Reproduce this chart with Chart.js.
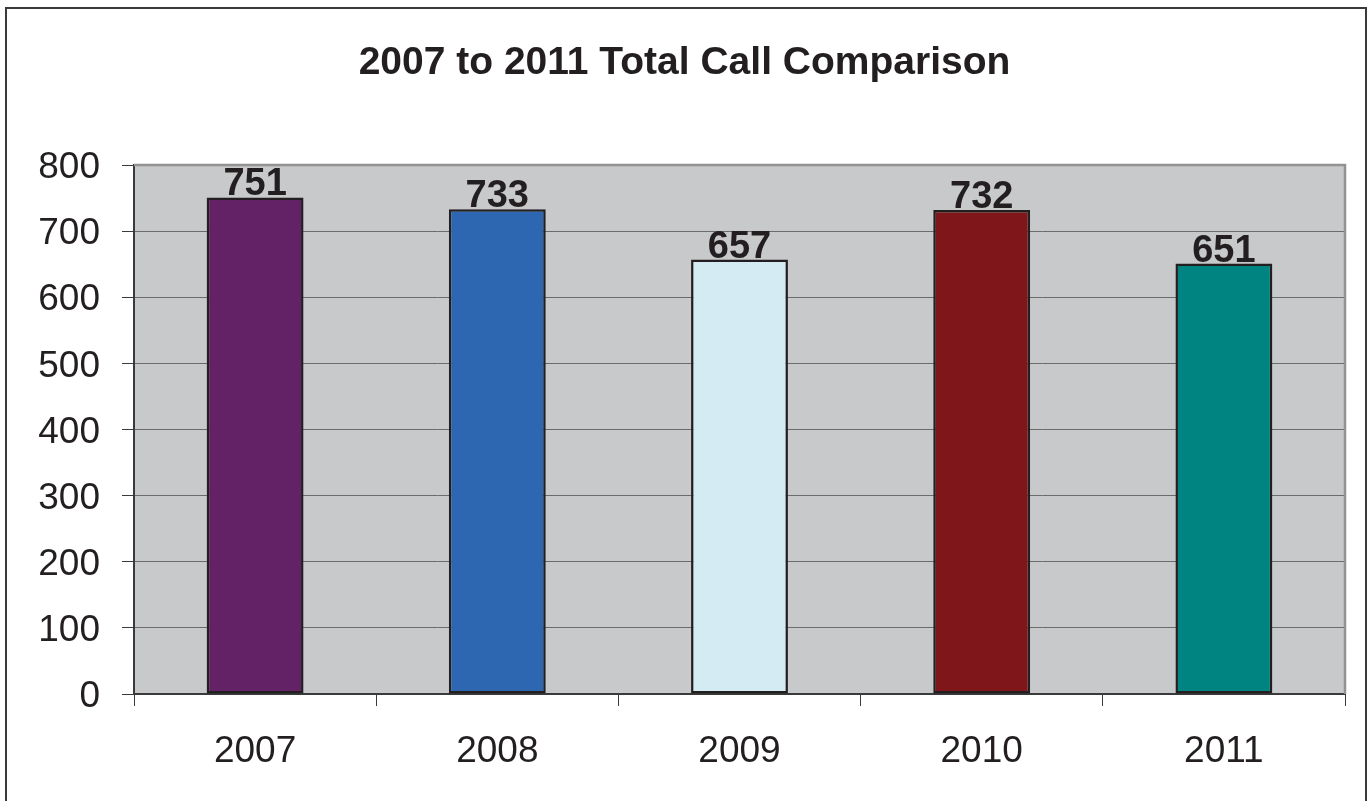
<!DOCTYPE html>
<html>
<head>
<meta charset="utf-8">
<script src="https://cdn.jsdelivr.net/npm/chart.js@4.4.1/dist/chart.umd.min.js"></script>
<style>
  html, body { margin: 0; padding: 0; background: #fff; }
  #wrap { width: 1369px; height: 801px; position: relative; }
</style>
</head>
<body>
<div id="wrap"><canvas id="callChart"></canvas></div>
<script>
// chart values
const years = ['2007', '2008', '2009', '2010', '2011'];
const totalCalls = [751, 733, 657, 732, 651];
const barColors = ['#642266', '#2e67b1', '#d4ebf3', '#7e161a', '#008482'];
const yTicks = [0, 100, 200, 300, 400, 500, 600, 700, 800];
const chartTitle = '2007 to 2011 Total Call Comparison';

const ink = '#231f20';
const font = 'Arial, "Liberation Sans", sans-serif';

// gray plot area, outer frame, top/right plot border and the title
const frame = {
    id: 'frame',
    beforeDraw(chart) {
        const { ctx, chartArea: a } = chart;
        ctx.save();
        ctx.fillStyle = '#fff';
        ctx.fillRect(0, 0, chart.width, chart.height);
        ctx.fillStyle = '#c8c9cb';
        ctx.fillRect(a.left, a.top, a.right - a.left, a.bottom - a.top);
        ctx.strokeStyle = '#3a3a3a';
        ctx.lineWidth = 2;
        ctx.strokeRect(6, 8, 1360, 820);
        // title centred on the whole frame, not the plot
        ctx.fillStyle = ink;
        ctx.font = 'bold 39px ' + font;
        ctx.textAlign = 'center';
        ctx.textBaseline = 'middle';
        ctx.fillText(chartTitle, chart.width / 2, 63);
        ctx.restore();
    },
    beforeDatasetsDraw(chart) {
        const { ctx, chartArea: a } = chart;
        ctx.save();
        ctx.strokeStyle = '#929292';
        ctx.lineWidth = 2.5;
        ctx.beginPath();
        ctx.moveTo(a.left, a.top);
        ctx.lineTo(a.right, a.top);
        ctx.lineTo(a.right, a.bottom);
        ctx.stroke();
        ctx.restore();
    }
};

// value labels sitting on top of each bar
const valueLabels = {
    id: 'valueLabels',
    afterDatasetsDraw(chart) {
        const { ctx } = chart;
        const meta = chart.getDatasetMeta(0);
        ctx.save();
        ctx.fillStyle = ink;
        ctx.font = 'bold 38px ' + font;
        ctx.textAlign = 'center';
        ctx.textBaseline = 'alphabetic';
        meta.data.forEach((bar, i) => {
            ctx.fillText(totalCalls[i], bar.x, bar.y - 2);
        });
        ctx.restore();
    }
};

new Chart(document.getElementById('callChart'), {
    type: 'bar',
    data: {
        labels: years,
        datasets: [{
            data: totalCalls,
            backgroundColor: barColors,
            borderColor: '#231f20',
            borderWidth: 2.5,
            borderSkipped: false,
            categoryPercentage: 1,
            barPercentage: 0.4
        }]
    },
    options: {
        responsive: true,
        maintainAspectRatio: false,
        animation: false,
        layout: { padding: { left: 0, right: 24, top: 165, bottom: 0 } },
        plugins: {
            legend: { display: false },
            tooltip: { enabled: false },
            title: { display: false }
        },
        scales: {
            y: {
                min: 0,
                max: 800,
                afterFit: s => { s.width = 134; },
                afterBuildTicks: s => { s.ticks = yTicks.map(v => ({ value: v })); },
                grid: {
                    color: c => c.tick && c.tick.value === 800 ? '#929292' : '#6b6b6b',
                    lineWidth: 1,
                    tickColor: '#3a3a3a',
                    tickLength: 12
                },
                border: { color: '#3a3a3a', width: 2 },
                ticks: {
                    color: ink,
                    padding: 22,
                    labelOffset: 3,
                    font: { family: font, size: 37 }
                }
            },
            x: {
                afterFit: s => { s.height = 107; },
                grid: {
                    offset: true,
                    drawOnChartArea: false,
                    tickColor: '#3a3a3a',
                    tickLength: 12
                },
                border: { color: '#3a3a3a', width: 2 },
                ticks: {
                    color: ink,
                    padding: 24,
                    font: { family: font, size: 37 }
                }
            }
        }
    },
    plugins: [frame, valueLabels]
});
</script>
</body>
</html>
